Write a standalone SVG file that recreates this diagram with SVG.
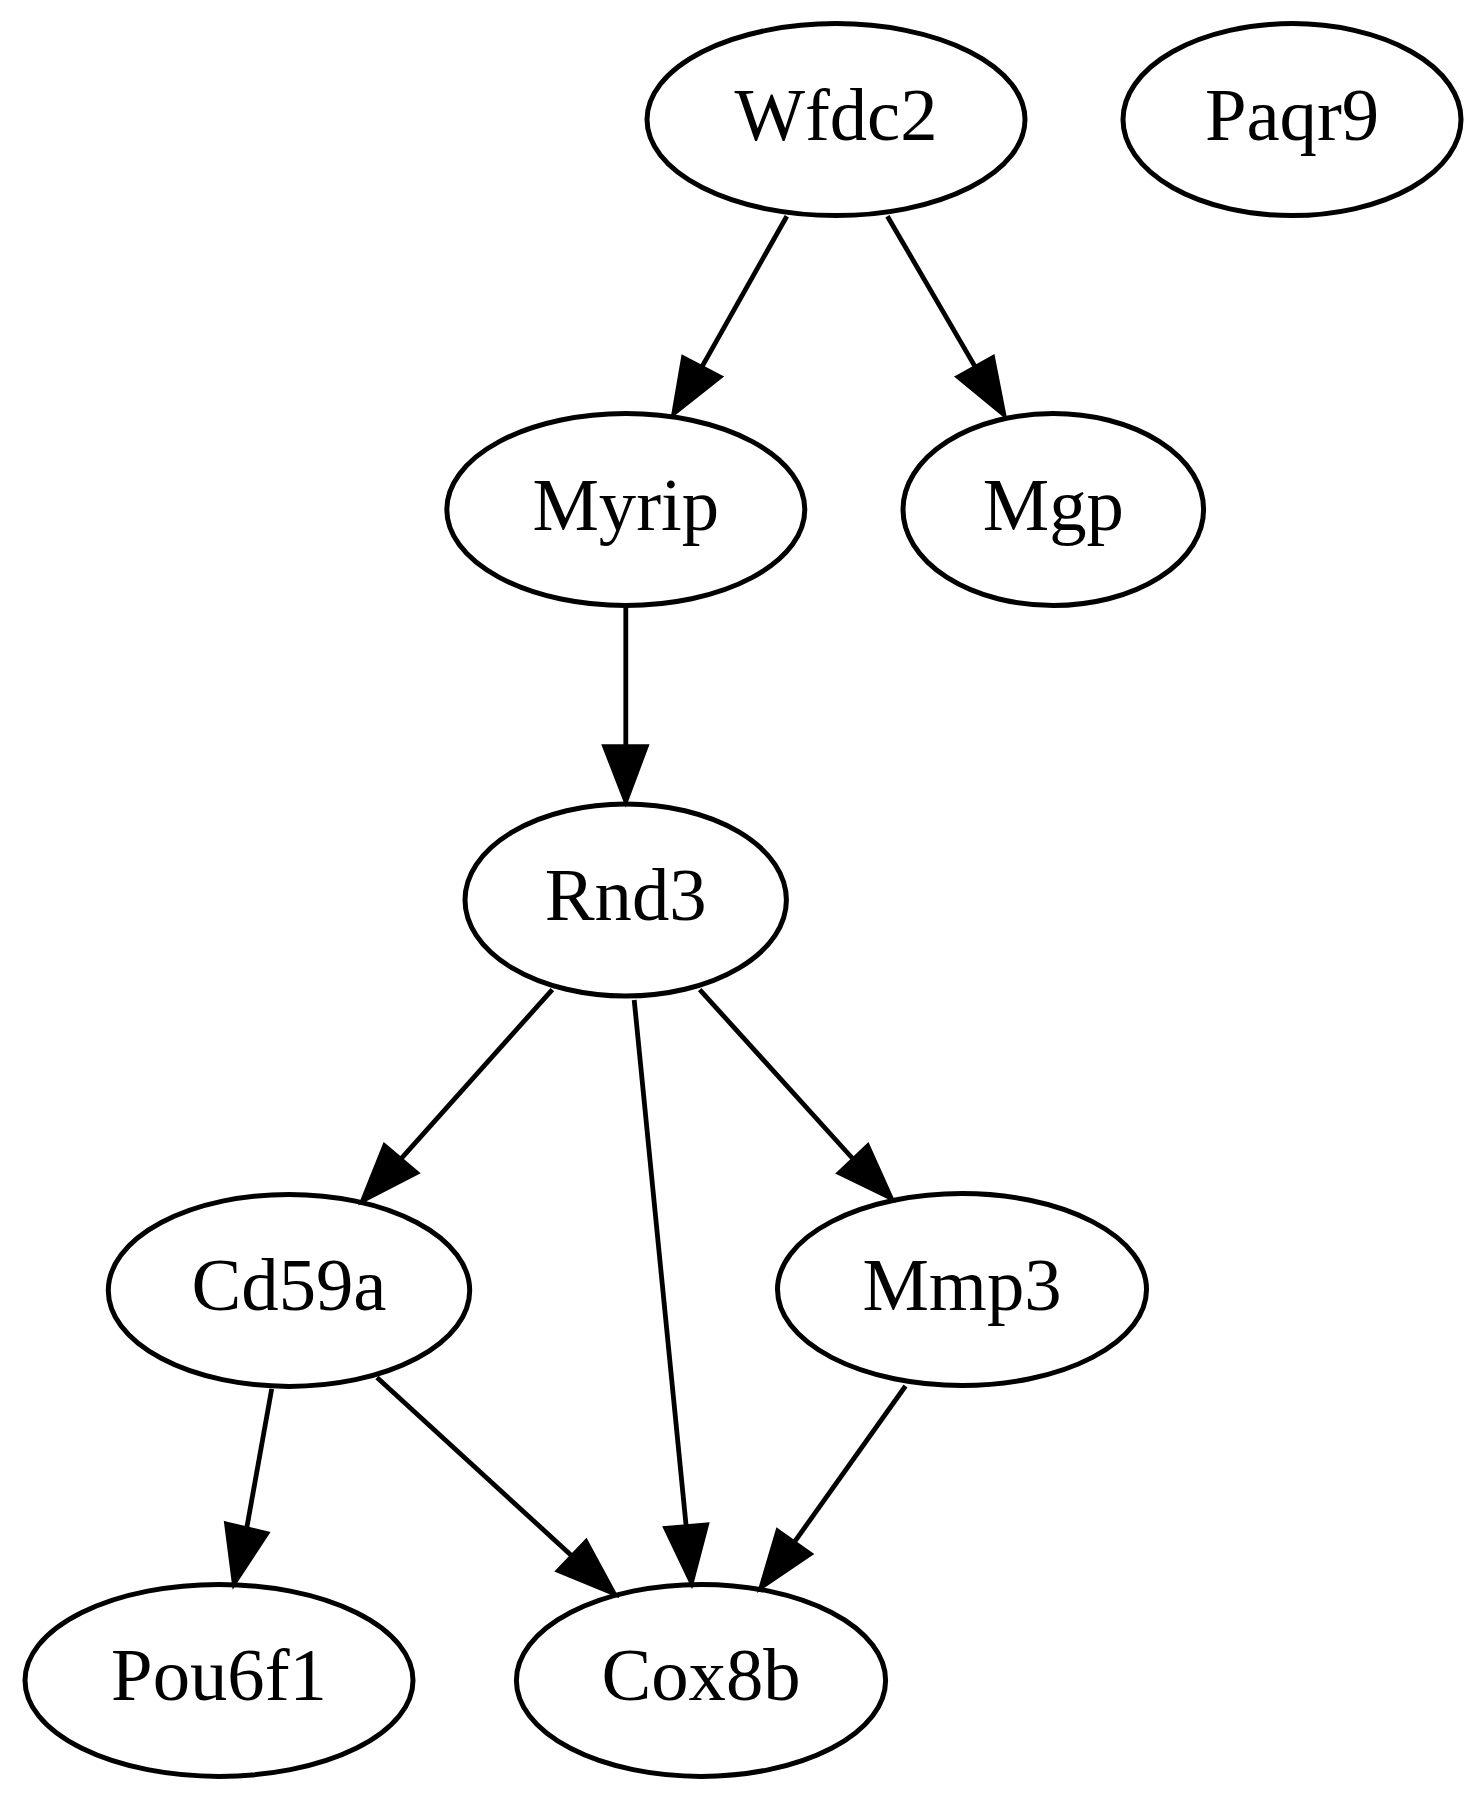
<svg xmlns="http://www.w3.org/2000/svg" width="1483" height="1800" viewBox="0 0 1483 1800">
<style>
.n ellipse{fill:none;stroke:#000;stroke-width:5}
.n text{font-family:"Liberation Serif","Times New Roman",serif;font-size:74.7px;text-anchor:middle;fill:#000}
.e line{stroke:#000;stroke-width:4.8}
.e polygon{fill:#000;stroke:#000;stroke-width:4.8;stroke-linejoin:miter}
</style>
<rect width="1483" height="1800" fill="#fff"/>
<g id="edges" class="e">
<g id="e-Wfdc2-Myrip"><line x1="786.8" y1="216.2" x2="701.6" y2="367.4"/><polygon points="683.4,357.8 719.8,377 673.9,413.3"/></g>
<g id="e-Wfdc2-Mgp"><line x1="887.4" y1="216.2" x2="975.5" y2="367.4"/><polygon points="958.2,377 992.7,357.8 1003.8,414.5"/></g>
<g id="e-Myrip-Rnd3"><line x1="625.8" y1="607.7" x2="625.8" y2="746.6"/><polygon points="604.7,746.6 646.1,746.6 625.8,801"/></g>
<g id="e-Rnd3-Cd59a"><line x1="552.3" y1="989.6" x2="400.5" y2="1159.3"/><polygon points="384.6,1145.9 416.4,1172.7 362.8,1200.3"/></g>
<g id="e-Rnd3-Cox8b"><line x1="634.2" y1="999.9" x2="686.2" y2="1526.6"/><polygon points="665.8,1528.3 706.5,1525 691.5,1582.2"/></g>
<g id="e-Rnd3-Mmp3"><line x1="699.7" y1="989.6" x2="853.5" y2="1159.5"/><polygon points="839.3,1172.9 867.7,1146.1 891,1198"/></g>
<g id="e-Cd59a-Pou6f1"><line x1="271.7" y1="1388.9" x2="246.6" y2="1528.8"/><polygon points="226.6,1524 266.7,1533.6 234.2,1583"/></g>
<g id="e-Cd59a-Cox8b"><line x1="377" y1="1377.5" x2="572.2" y2="1556.2"/><polygon points="558.4,1570.7 586,1541.8 614,1593.4"/></g>
<g id="e-Mmp3-Cox8b"><line x1="905.5" y1="1386" x2="794" y2="1542.6"/><polygon points="777.8,1531.2 810.1,1554 761.2,1587.2"/></g>
</g>
<g id="Wfdc2" class="n"><ellipse cx="836" cy="119.6" rx="189" ry="96"/><text x="836" y="139.6">Wfdc2</text></g>
<g id="Paqr9" class="n"><ellipse cx="1292" cy="119.6" rx="169" ry="96"/><text x="1292" y="139.6">Paqr9</text></g>
<g id="Myrip" class="n"><ellipse cx="625.8" cy="509.5" rx="179" ry="96"/><text x="625.8" y="529.5">Myrip</text></g>
<g id="Mgp" class="n"><ellipse cx="1053.3" cy="509.5" rx="150.3" ry="96"/><text x="1053.3" y="529.5">Mgp</text></g>
<g id="Rnd3" class="n"><ellipse cx="625.7" cy="900" rx="160.7" ry="96"/><text x="625.7" y="920">Rnd3</text></g>
<g id="Cd59a" class="n"><ellipse cx="289" cy="1290.4" rx="180.7" ry="96"/><text x="289" y="1310.4">Cd59a</text></g>
<g id="Mmp3" class="n"><ellipse cx="962" cy="1289.5" rx="184.5" ry="96"/><text x="962" y="1309.5">Mmp3</text></g>
<g id="Pou6f1" class="n"><ellipse cx="219" cy="1680.4" rx="194" ry="96"/><text x="219" y="1700.4">Pou6f1</text></g>
<g id="Cox8b" class="n"><ellipse cx="701" cy="1680.4" rx="184.6" ry="96"/><text x="701" y="1700.4">Cox8b</text></g>
</svg>
